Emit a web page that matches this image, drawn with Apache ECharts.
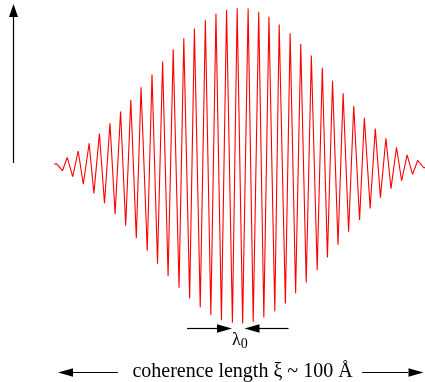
<!DOCTYPE html>
<html>
<head>
<meta charset="utf-8">
<script src="https://cdn.jsdelivr.net/npm/echarts@6/dist/echarts.min.js"></script>
<style>
  html, body { margin: 0; padding: 0; background: #fff; }
  #chart { width: 425px; height: 382px; }
</style>
</head>
<body>
<div id="chart"></div>
<script>
// Wave packet: successive crests and troughs of the oscillation.
// Position along the packet (Å, packet centre at 0).
const positionA = [
  -51.4, -50.8, -49.2, -47.9, -46.4, -44.9, -43.5, -41.9, -40.6, -39.1,
  -37.7, -36.2, -34.8, -33.3, -31.9, -30.5, -29.0, -27.7, -26.0, -24.7,
  -23.2, -21.8, -20.3, -18.9, -17.3, -16.0, -14.4, -13.1, -11.5, -10.1,
  -8.6, -7.2, -5.7, -4.3, -2.7, -1.4, 0.1, 1.6, 3.0, 4.5,
  5.9, 7.3, 8.9, 10.1, 11.8, 13.1, 14.6, 16.0, 17.5, 18.9,
  20.5, 21.9, 23.3, 24.7, 26.2, 27.6, 29.1, 30.5, 32.1, 33.4,
  35.0, 36.4, 37.8, 39.3, 40.7, 42.2, 43.6, 45.1, 46.6, 48.0,
  49.7, 50.4
];
// Displacement at each of those positions (relative units).
const amplitude = [
  0.01, 0.01, -0.033, 0.051, -0.071, 0.092, -0.119, 0.141, -0.177, 0.202,
  -0.240, 0.268, -0.308, 0.342, -0.382, 0.416, -0.462, 0.497, -0.541, 0.577,
  -0.623, 0.659, -0.702, 0.738, -0.776, 0.808, -0.843, 0.869, -0.900, 0.922,
  -0.949, 0.962, -0.981, 0.987, -0.998, 0.998, -1.002, 0.996, -0.992, 0.975,
  -0.964, 0.943, -0.924, 0.895, -0.875, 0.839, -0.811, 0.771, -0.742, 0.698,
  -0.663, 0.620, -0.583, 0.538, -0.503, 0.458, -0.420, 0.378, -0.346, 0.303,
  -0.272, 0.234, -0.204, 0.173, -0.147, 0.116, -0.097, 0.067, -0.056, 0.032,
  -0.016, -0.008
];

const waveLabel = 'λ';
const waveSub = '0';
const coherenceLabel = 'coherence length ξ ~ 100 Å';

const points = positionA.map((x, i) => [x, amplitude[i]]);

const serif = '"Liberation Serif", "DejaVu Serif", serif';
const ink = '#000';

// Filled horizontal arrow head; dir = +1 points right, -1 points left
function hArrowHead(tipX, y, dir, len, half) {
  return {
    type: 'polygon',
    shape: { points: [[tipX, y], [tipX - dir * len, y - half], [tipX - dir * len, y + half]] },
    style: { fill: ink },
    silent: true
  };
}
function hLine(x1, x2, y) {
  return {
    type: 'line',
    shape: { x1: x1, y1: y, x2: x2, y2: y },
    style: { stroke: ink, lineWidth: 1.2 },
    silent: true
  };
}

const chart = echarts.init(document.getElementById('chart'), null, { renderer: 'canvas' });

chart.setOption({
  animation: false,
  backgroundColor: '#fff',
  grid: { left: 23, right: 0, top: 0, bottom: 51 },
  xAxis: {
    type: 'value', min: -60, max: 50, show: false,
    splitLine: { show: false }
  },
  yAxis: {
    type: 'value', min: -1.05, max: 1.05, show: false,
    splitLine: { show: false }
  },
  series: [{
    type: 'line',
    data: points,
    showSymbol: false,
    clip: true,
    lineStyle: { color: '#ff0000', width: 1.1 }
  }],
  graphic: [
    // vertical amplitude arrow on the left
    {
      type: 'line',
      shape: { x1: 13.5, y1: 163, x2: 13.5, y2: 16 },
      style: { stroke: ink, lineWidth: 1.2 },
      silent: true
    },
    {
      type: 'polygon',
      shape: { points: [[13.5, 4], [9, 17], [18, 17]] },
      style: { fill: ink },
      silent: true
    },
    // wavelength marker
    hLine(187, 218, 328.5),
    hArrowHead(232, 328.5, 1, 15, 4.3),
    hLine(258, 288.5, 328.5),
    hArrowHead(244.5, 328.5, -1, 15, 4.3),
    {
      type: 'text',
      x: 232, y: 351,
      style: {
        text: '{l|' + waveLabel + '}{s|' + waveSub + '}',
        fill: ink,
        verticalAlign: 'bottom',
        rich: {
          l: { fontFamily: serif, fontSize: 18, fill: ink },
          s: { fontFamily: serif, fontSize: 14, fill: ink, padding: [8, 0, 0, 0] }
        }
      },
      silent: true
    },
    // coherence length marker
    hLine(73, 118, 372.5),
    hArrowHead(58, 372.5, -1, 15, 4.3),
    hLine(362, 408, 372.5),
    hArrowHead(423.5, 372.5, 1, 15, 4.3),
    {
      type: 'text',
      x: 242.5, y: 372,
      style: {
        text: coherenceLabel,
        fontFamily: serif,
        fontSize: 20,
        fill: ink,
        align: 'center',
        verticalAlign: 'middle'
      },
      silent: true
    }
  ]
});
</script>
</body>
</html>
